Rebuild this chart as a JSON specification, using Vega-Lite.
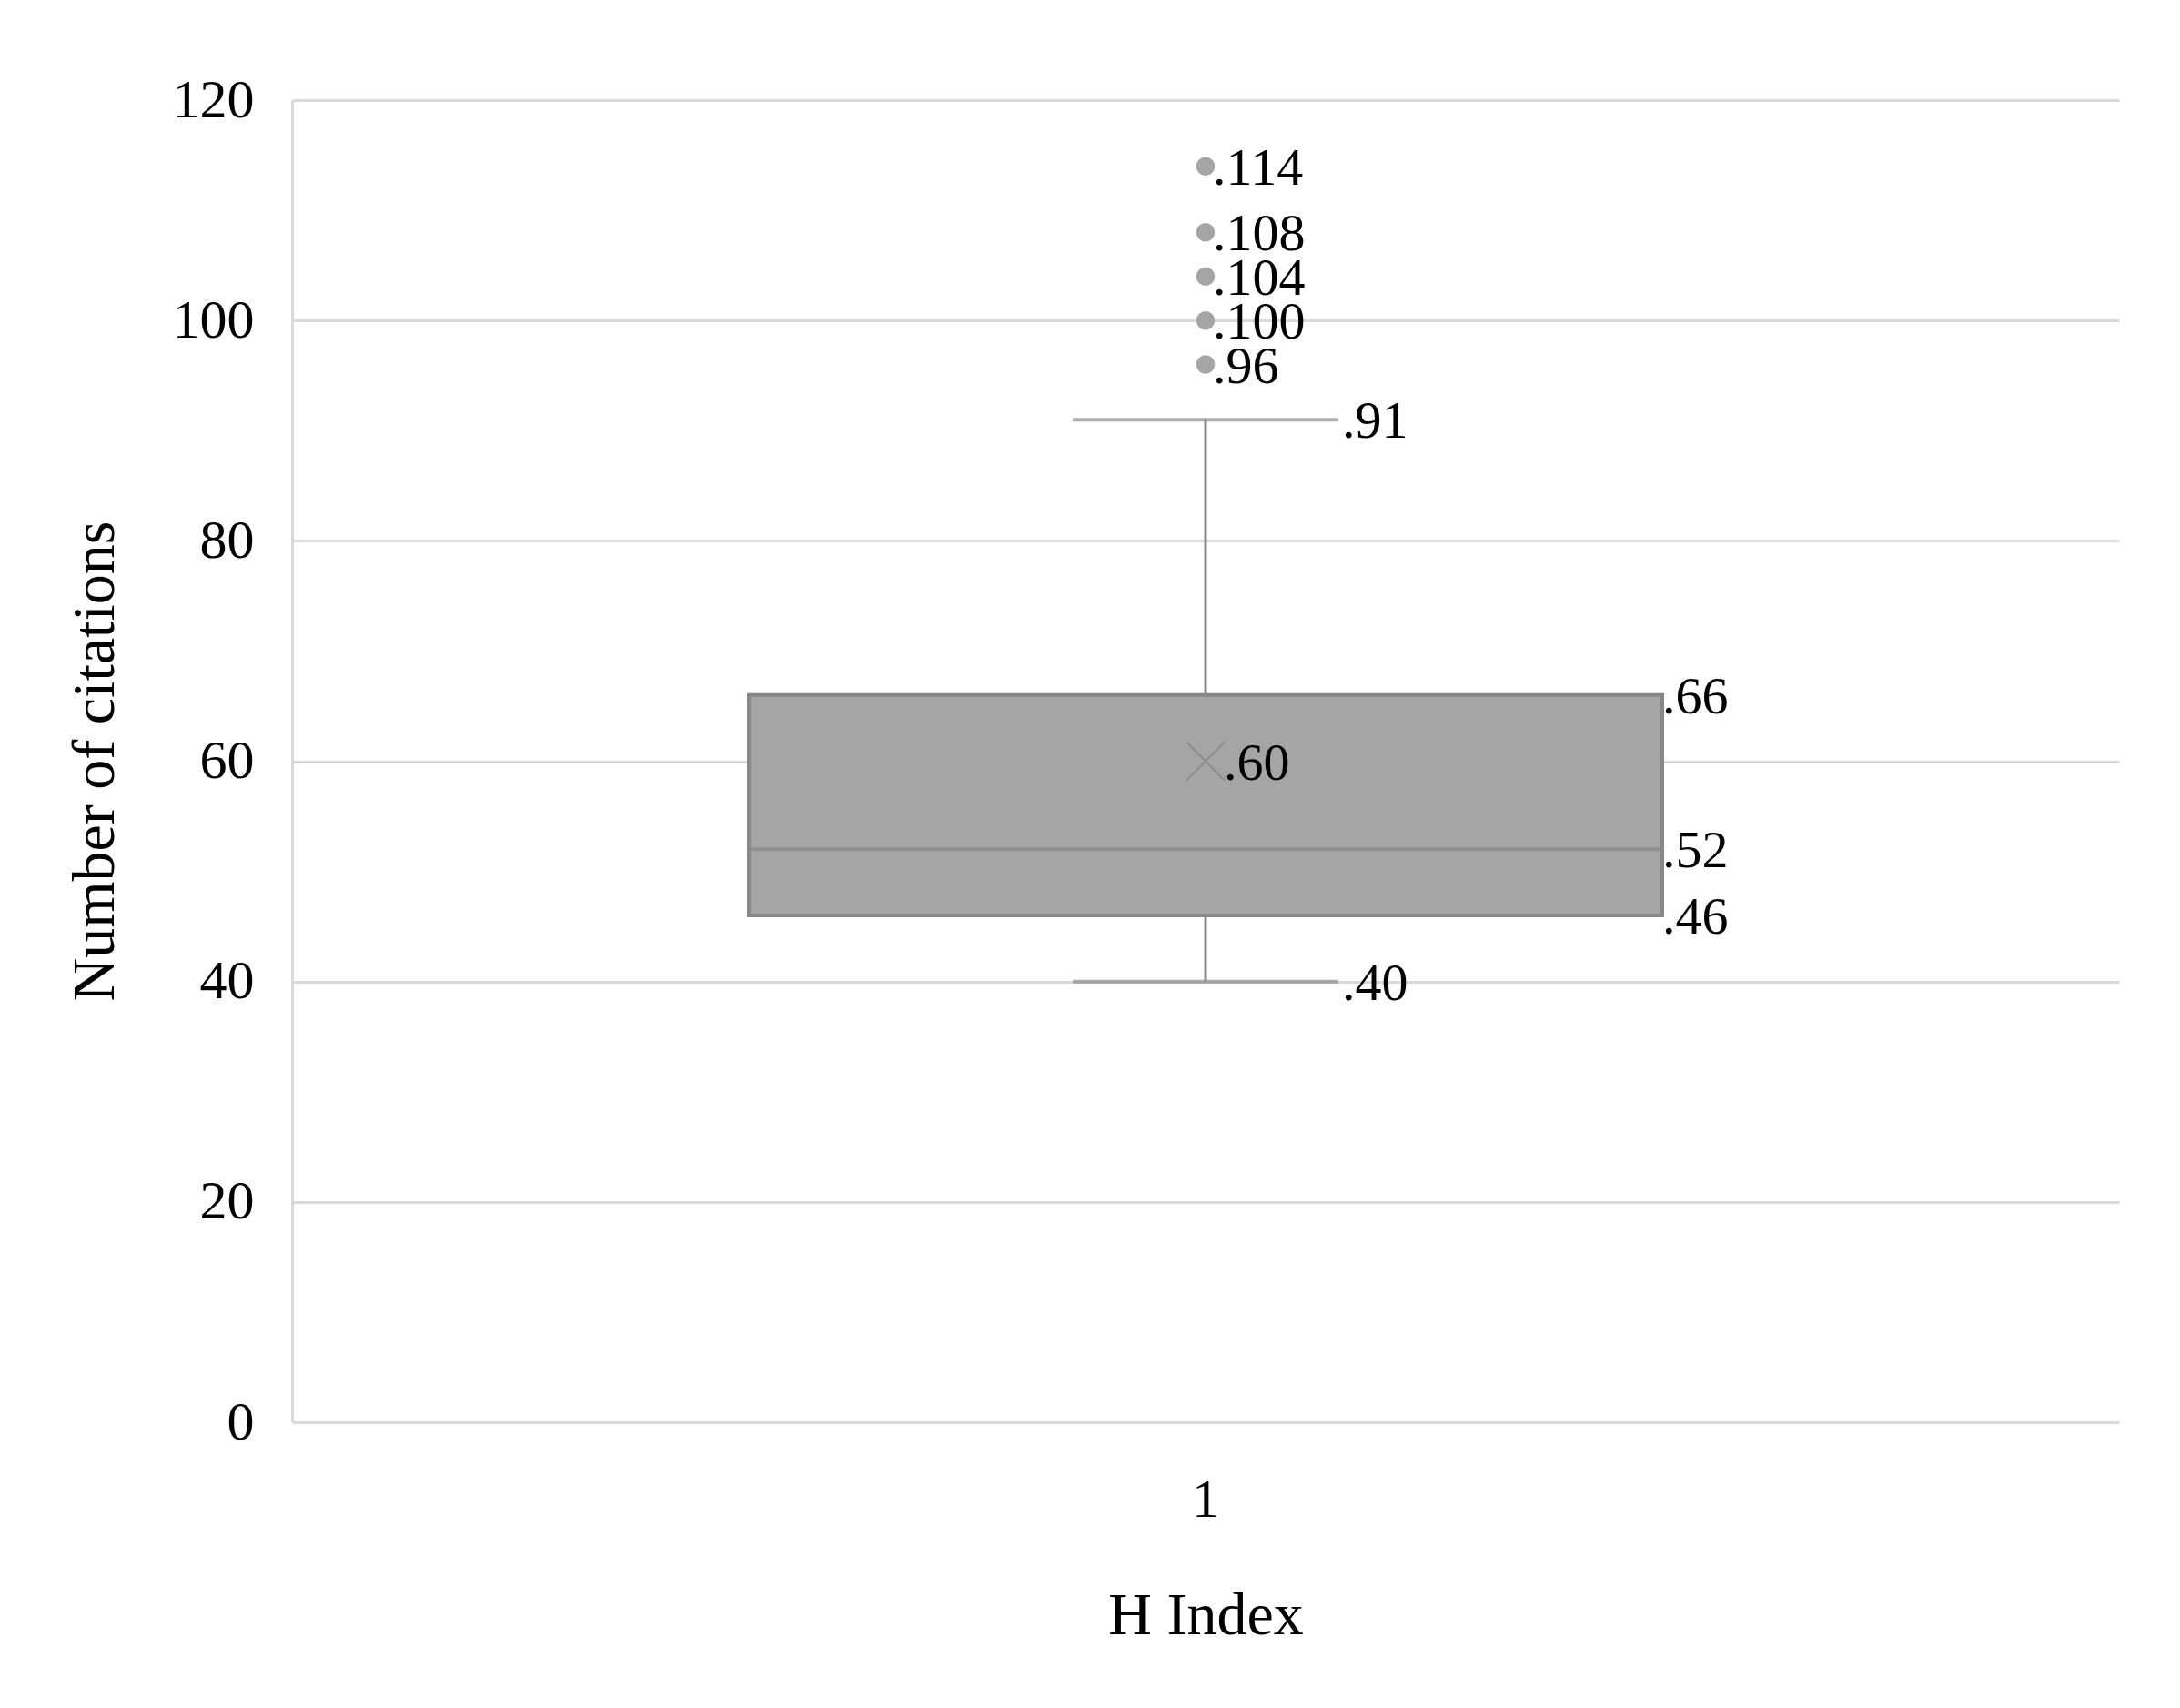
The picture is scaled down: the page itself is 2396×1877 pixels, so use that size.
{
  "$schema": "https://vega.github.io/schema/vega-lite/v6.json",
  "autosize": "none",
  "width": 2008,
  "height": 1453,
  "padding": {"left": 321, "top": 110, "right": 67, "bottom": 314},
  "background": "white",
  "datasets": {
    "stats": [
      {"g": "1", "stat": "min", "v": 40, "label": ".40"},
      {"g": "1", "stat": "q1", "v": 46, "label": ".46"},
      {"g": "1", "stat": "median", "v": 52, "label": ".52"},
      {"g": "1", "stat": "mean", "v": 60, "label": ".60"},
      {"g": "1", "stat": "q3", "v": 66, "label": ".66"},
      {"g": "1", "stat": "max", "v": 91, "label": ".91"},
      {"g": "1", "stat": "outlier", "v": 96, "label": ".96"},
      {"g": "1", "stat": "outlier", "v": 100, "label": ".100"},
      {"g": "1", "stat": "outlier", "v": 104, "label": ".104"},
      {"g": "1", "stat": "outlier", "v": 108, "label": ".108"},
      {"g": "1", "stat": "outlier", "v": 114, "label": ".114"}
    ]
  },
  "data": {"name": "stats"},
  "encoding": {
    "x": {
      "field": "g",
      "type": "nominal",
      "scale": {"paddingInner": 0, "paddingOuter": 0},
      "axis": {
        "title": "H Index",
        "labelAngle": 0,
        "ticks": false,
        "domain": false,
        "labelPadding": 85,
        "labelBaseline": "middle",
        "labelFont": "Liberation Serif",
        "labelFontSize": 60,
        "labelColor": "#000000",
        "titleFont": "Liberation Serif",
        "titleFontSize": 66,
        "titleFontWeight": "normal",
        "titleColor": "#000000",
        "titleBaseline": "middle",
        "titleY": 212
      }
    }
  },
  "layer": [
    {
      "transform": [
        {"filter": "datum.stat != 'outlier'"},
        {"pivot": "stat", "value": "v", "groupby": ["g"]}
      ],
      "layer": [
        {
          "mark": {"type": "rule", "color": "#8a8a8a", "strokeWidth": 3},
          "encoding": {
            "y": {
              "field": "q3",
              "type": "quantitative",
              "scale": {"domain": [0, 120], "nice": false},
              "axis": {
                "title": "Number of citations",
                "values": [0, 20, 40, 60, 80, 100, 120],
                "grid": true,
                "gridColor": "#d9d9d9",
                "gridWidth": 3,
                "domain": true,
                "domainColor": "#d9d9d9",
                "domainWidth": 3,
                "ticks": false,
                "labelPadding": 42,
                "labelFont": "Liberation Serif",
                "labelFontSize": 60,
                "labelColor": "#000000",
                "titleFont": "Liberation Serif",
                "titleFontSize": 66,
                "titleFontWeight": "normal",
                "titleColor": "#000000",
                "titleAngle": -90,
                "titleAlign": "center",
                "titleBaseline": "middle",
                "titleX": -217,
                "titleY": 726
              }
            },
            "y2": {"field": "max"}
          }
        },
        {
          "mark": {"type": "rule", "color": "#8a8a8a", "strokeWidth": 3},
          "encoding": {
            "y": {"field": "min", "type": "quantitative"},
            "y2": {"field": "q1"}
          }
        },
        {
          "mark": {"type": "bar", "width": {"band": 0.5}, "fill": "#a5a5a5", "stroke": "#878787", "strokeWidth": 4},
          "encoding": {
            "y": {"field": "q1", "type": "quantitative"},
            "y2": {"field": "q3"}
          }
        },
        {
          "mark": {"type": "tick", "color": "#878787", "size": 1000, "thickness": 4},
          "encoding": {"y": {"field": "median", "type": "quantitative"}}
        },
        {
          "mark": {"type": "tick", "color": "#8a8a8a", "size": 292, "thickness": 4},
          "encoding": {"y": {"field": "max", "type": "quantitative"}}
        },
        {
          "mark": {"type": "tick", "color": "#8a8a8a", "size": 292, "thickness": 4},
          "encoding": {"y": {"field": "min", "type": "quantitative"}}
        },
        {
          "mark": {"type": "point", "shape": "M-1,-1L1,1M-1,1L1,-1", "filled": false, "stroke": "#8c8c8c", "strokeWidth": 2, "size": 1800, "opacity": 1},
          "encoding": {"y": {"field": "mean", "type": "quantitative"}}
        }
      ]
    },
    {
      "transform": [{"filter": "datum.stat == 'outlier'"}],
      "mark": {"type": "point", "shape": "circle", "filled": true, "color": "#a5a5a5", "size": 420, "opacity": 1},
      "encoding": {"y": {"field": "v", "type": "quantitative"}}
    },
    {
      "transform": [{"filter": "datum.stat == 'outlier'"}],
      "mark": {"type": "text", "align": "left", "baseline": "middle", "dx": 8, "dy": 3, "font": "Liberation Serif", "fontSize": 58, "color": "#000000"},
      "encoding": {"y": {"field": "v", "type": "quantitative"}, "text": {"field": "label"}}
    },
    {
      "transform": [{"filter": "datum.stat == 'min' || datum.stat == 'max'"}],
      "mark": {"type": "text", "align": "left", "baseline": "middle", "dx": 150, "dy": 3, "font": "Liberation Serif", "fontSize": 58, "color": "#000000"},
      "encoding": {"y": {"field": "v", "type": "quantitative"}, "text": {"field": "label"}}
    },
    {
      "transform": [{"filter": "datum.stat == 'q1' || datum.stat == 'q3' || datum.stat == 'median'"}],
      "mark": {"type": "text", "align": "left", "baseline": "middle", "dx": 502, "dy": 3, "font": "Liberation Serif", "fontSize": 58, "color": "#000000"},
      "encoding": {"y": {"field": "v", "type": "quantitative"}, "text": {"field": "label"}}
    },
    {
      "transform": [{"filter": "datum.stat == 'mean'"}],
      "mark": {"type": "text", "align": "left", "baseline": "middle", "dx": 20, "dy": 3, "font": "Liberation Serif", "fontSize": 58, "color": "#000000"},
      "encoding": {"y": {"field": "v", "type": "quantitative"}, "text": {"field": "label"}}
    }
  ],
  "config": {
    "view": {"stroke": null},
    "axis": {"labelFont": "Liberation Serif", "titleFont": "Liberation Serif"}
  }
}
